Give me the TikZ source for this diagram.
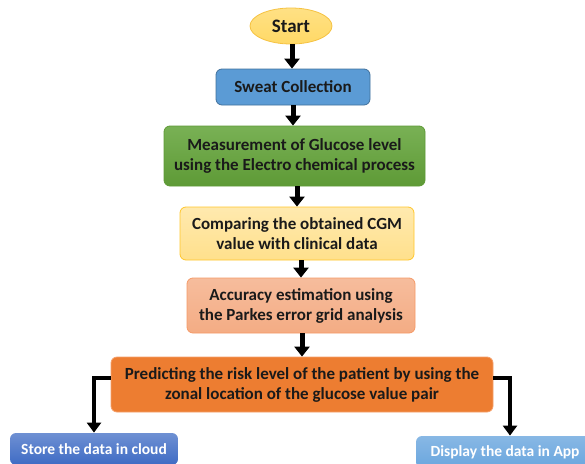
\documentclass[tikz,border=0pt]{standalone}
\usepackage{fontspec}
\setmainfont{Carlito}
\usetikzlibrary{positioning,shapes.geometric,arrows.meta}

\definecolor{startfill}{HTML}{FFD966}
\definecolor{startline}{HTML}{F5C242}
\definecolor{sweatfill}{HTML}{5B9BD5}
\definecolor{sweatline}{HTML}{41719C}
\definecolor{greenfill}{HTML}{6AA842}
\definecolor{greenline}{HTML}{5E9A36}
\definecolor{yellowfill}{HTML}{FFE08C}
\definecolor{yellowline}{HTML}{FFC62A}
\definecolor{salmonfill}{HTML}{F4AC84}
\definecolor{salmonline}{HTML}{F59A67}
\definecolor{orangefill}{HTML}{ED7D31}
\definecolor{orangeline}{HTML}{F5A06B}
\definecolor{cloudfill}{HTML}{3E6BC4}
\definecolor{appfill}{HTML}{6AA6DE}
\definecolor{inktext}{HTML}{1A1A1A}

\begin{document}
\begin{tikzpicture}[
    x=1pt, y=-1pt,
    box/.style={rectangle, rounded corners=6pt, draw, line width=0.8pt, align=center, inner sep=2pt,
        text=inktext, font=\bfseries\fontsize{17}{20}\selectfont},
    startbox/.style={ellipse, draw=startline, line width=0.8pt, top color=startfill!80, bottom color=startfill,
        minimum width=82pt, minimum height=36pt, inner sep=0pt, text=inktext,
        font=\bfseries\fontsize{19}{20}\selectfont},
    sweatbox/.style={box, draw=sweatline, fill=sweatfill},
    greenbox/.style={box, draw=greenline, top color=greenfill!90!white, bottom color=greenline},
    yellowbox/.style={box, draw=yellowline, top color=yellowfill!70!white, bottom color=yellowfill},
    salmonbox/.style={box, draw=salmonline, top color=salmonfill!80!white, bottom color=salmonfill},
    orangebox/.style={box, draw=orangeline, fill=orangefill},
    outbox/.style={box, draw=none, text=white, font=\bfseries\fontsize{15.5}{18}\selectfont},
    arrow/.style={-{Triangle[width=15pt,length=10pt]}, line width=5pt},
    branch/.style={-{Triangle[width=14pt,length=10pt]}, line width=4pt}
]
\useasboundingbox (0,0) rectangle (585,463);
\clip (0,0) rectangle (585,463);

% Main chain
\node[startbox] (start) at (291,26) {Start};
\node[sweatbox, minimum width=154pt, minimum height=36pt] (sweat) at (293,87) {Sweat Collection};
\node[greenbox, minimum width=261pt, minimum height=60pt] (measure) at (294.5,156)
    {Measurement of Glucose level\\using the Electro chemical process};
\node[yellowbox, minimum width=234pt, minimum height=53pt] (compare) at (297,233.5)
    {Comparing the obtained CGM\\value with clinical data};
\node[salmonbox, minimum width=228pt, minimum height=55pt] (accuracy) at (301,305.5)
    {Accuracy estimation using\\the Parkes error grid analysis};
\node[orangebox, minimum width=382pt, minimum height=55pt] (predict) at (302,384.5)
    {Predicting the risk level of the patient by using the\\zonal location of the glucose value pair};

% Outputs
\node[outbox, top color=cloudfill!75!white, bottom color=cloudfill, minimum width=168pt, minimum height=32pt] (store) at (94,449) {Store the data in cloud};
\node[outbox, top color=appfill!80!white, bottom color=appfill, minimum width=178pt, minimum height=32pt] (display) at (505,452) {Display the data in App};

% Arrows
\draw[arrow] ([xshift=1pt]start.south) -- ([xshift=1pt]start.south |- sweat.north);
\draw[arrow] (sweat.south) -- (sweat.south |- measure.north);
\draw[arrow] ([xshift=2.5pt]measure.south) -- ([xshift=2.5pt]measure.south |- compare.north);
\draw[arrow] ([xshift=4pt]compare.south) -- ([xshift=4pt]compare.south |- accuracy.north);
\draw[arrow] ([xshift=1pt]accuracy.south) -- ([xshift=1pt]accuracy.south |- predict.north);

% Branches
\draw[branch] ([yshift=6.5pt]predict.west) -| (store.north);
\draw[branch] ([yshift=6.5pt]predict.east) -| ([xshift=5pt]display.north);

\end{tikzpicture}
\end{document}
